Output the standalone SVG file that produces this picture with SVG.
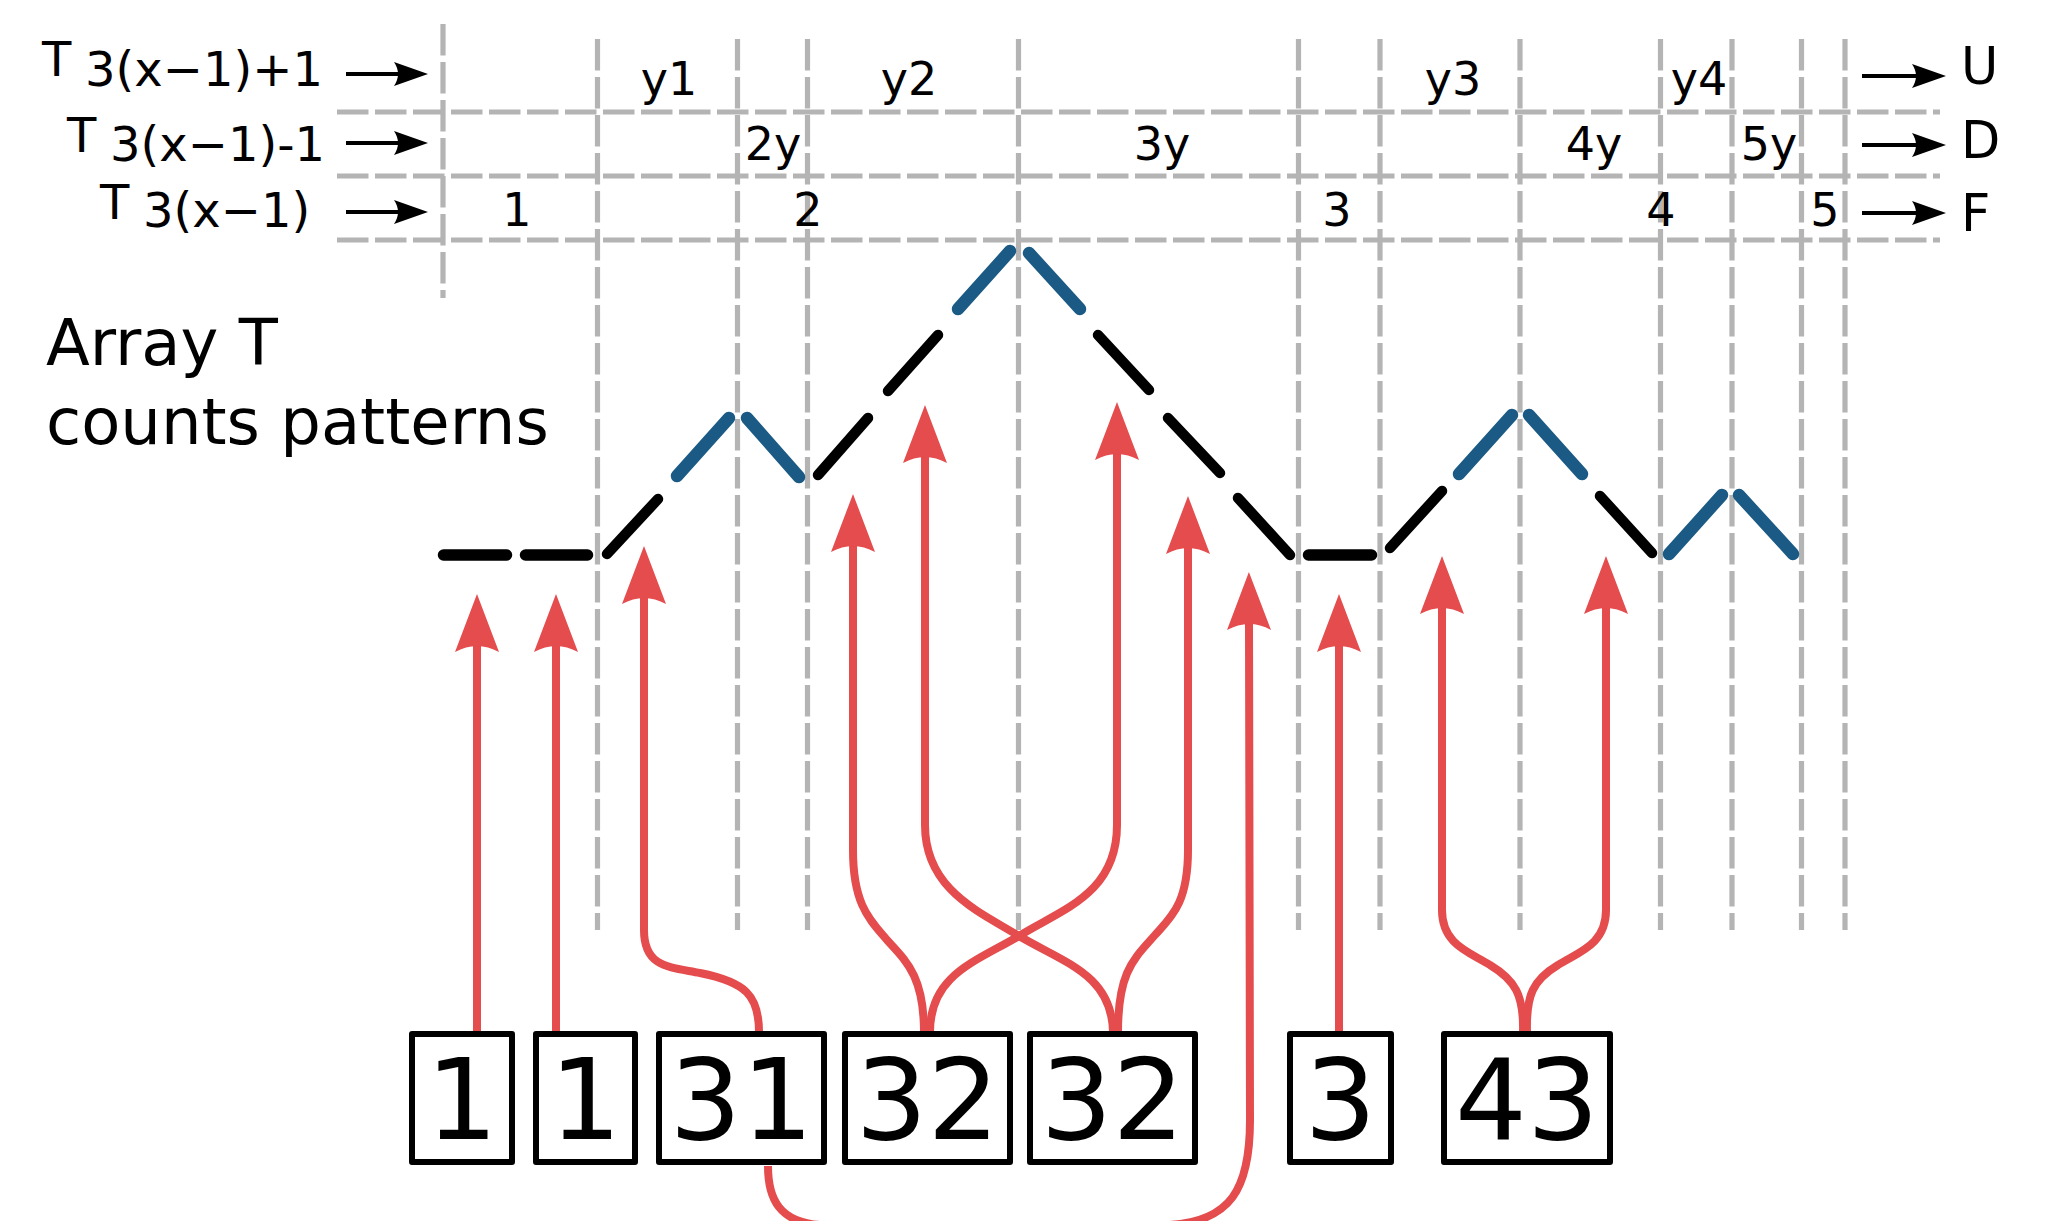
<svg xmlns="http://www.w3.org/2000/svg" width="2048" height="1221" viewBox="0 0 2048 1221">
<style>
text{font-family:"DejaVu Sans","Liberation Sans",sans-serif;fill:#000}
.grid{stroke:#b4b4b4;stroke-width:5.2;stroke-dasharray:31.5 6.5;fill:none}
.blk{stroke:#000;stroke-width:10.5;stroke-linecap:round;fill:none}
.flat{stroke:#000;stroke-width:11.5;stroke-linecap:round;fill:none}
.blu{stroke:#1b5a84;stroke-width:12.5;stroke-linecap:round;fill:none}
.red{stroke:#e54c4d;stroke-width:8;fill:none;marker-end:url(#ah)}
.kar{stroke:#000;stroke-width:4;fill:none;marker-end:url(#kh)}
.box{fill:#fff;stroke:#000;stroke-width:6;stroke-linejoin:round}
.lab{font-size:48px}
.cell{font-size:46px;text-anchor:middle}
.udf{font-size:51px}
.big{font-size:113px;text-anchor:middle}
.cap{font-size:64px}
</style>
<defs>
<marker id="ah" viewBox="-7 -23 62 46" refX="0" refY="0" markerWidth="62" markerHeight="46" markerUnits="userSpaceOnUse" orient="auto" overflow="visible">
<path d="M52,0 L-6,-22 Q6,0 -6,22 Z" fill="#e54c4d"/>
</marker>
<marker id="kh" viewBox="-5 -13 38 26" refX="0" refY="0" markerWidth="38" markerHeight="26" markerUnits="userSpaceOnUse" orient="auto" overflow="visible">
<path d="M30,0 L-4,-12 Q4,0 -4,12 Z" fill="#000"/>
</marker>
</defs>
<rect width="2048" height="1221" fill="#fff"/>
<g id="grid">
<line class="grid" x1="337" y1="112" x2="1940" y2="112"/>
<line class="grid" x1="337" y1="176" x2="1940" y2="176"/>
<line class="grid" x1="337" y1="240" x2="1940" y2="240"/>
<line class="grid" x1="443" y1="24" x2="443" y2="298"/>
<line class="grid" x1="597.5" y1="39" x2="597.5" y2="930"/>
<line class="grid" x1="737.5" y1="39" x2="737.5" y2="930"/>
<line class="grid" x1="807.5" y1="39" x2="807.5" y2="930"/>
<line class="grid" x1="1018.5" y1="39" x2="1018.5" y2="930"/>
<line class="grid" x1="1298.5" y1="39" x2="1298.5" y2="930"/>
<line class="grid" x1="1380" y1="39" x2="1380" y2="930"/>
<line class="grid" x1="1520" y1="39" x2="1520" y2="930"/>
<line class="grid" x1="1660.5" y1="39" x2="1660.5" y2="930"/>
<line class="grid" x1="1732" y1="39" x2="1732" y2="930"/>
<line class="grid" x1="1801.5" y1="39" x2="1801.5" y2="930"/>
<line class="grid" x1="1845" y1="39" x2="1845" y2="930"/>
</g>
<g id="row-labels">
<text class="lab" x="42" y="76">T</text><text class="lab" x="85" y="86">3(x−1)+1</text>
<text class="lab" x="67" y="152">T</text><text class="lab" x="110" y="161">3(x−1)-1</text>
<text class="lab" x="100" y="219">T</text><text class="lab" x="143" y="227">3(x−1)</text>
<path class="kar" d="M346,74 L398,74"/>
<path class="kar" d="M346,143 L398,143"/>
<path class="kar" d="M346,212 L398,212"/>
<path class="kar" d="M1862,76 L1916,76"/>
<path class="kar" d="M1862,145 L1916,145"/>
<path class="kar" d="M1862,213 L1916,213"/>
<text class="udf" x="1961" y="84">U</text>
<text class="udf" x="1961" y="158">D</text>
<text class="udf" x="1961" y="231">F</text>
</g>
<g id="cell-labels">
<text class="cell" x="669" y="95">y1</text>
<text class="cell" x="909" y="95">y2</text>
<text class="cell" x="1453" y="95">y3</text>
<text class="cell" x="1699" y="95">y4</text>
<text class="cell" x="773" y="160">2y</text>
<text class="cell" x="1162" y="160">3y</text>
<text class="cell" x="1594" y="160">4y</text>
<text class="cell" x="1769" y="160">5y</text>
<text class="cell" x="517" y="226">1</text>
<text class="cell" x="808" y="226">2</text>
<text class="cell" x="1337" y="226">3</text>
<text class="cell" x="1661" y="226">4</text>
<text class="cell" x="1825" y="226">5</text>
</g>
<g id="caption">
<text class="cap" x="46" y="365">Array T</text>
<text class="cap" x="46" y="444">counts patterns</text>
</g>
<g id="path-steps">
<line class="flat" x1="443.5" y1="555" x2="506.5" y2="555"/>
<line class="flat" x1="525.5" y1="555" x2="587.5" y2="555"/>
<line class="blk" x1="607" y1="554" x2="658" y2="499"/>
<line class="blu" x1="677" y1="476" x2="729" y2="418"/>
<line class="blu" x1="747" y1="418" x2="799" y2="477"/>
<line class="blk" x1="818" y1="475" x2="868" y2="418"/>
<line class="blk" x1="888" y1="391" x2="938" y2="335"/>
<line class="blu" x1="958" y1="309" x2="1010" y2="251"/>
<line class="blu" x1="1029" y1="253" x2="1080" y2="309"/>
<line class="blk" x1="1098" y1="335" x2="1149" y2="390"/>
<line class="blk" x1="1168" y1="418" x2="1220" y2="473"/>
<line class="blk" x1="1238" y1="498" x2="1290" y2="555"/>
<line class="flat" x1="1308.5" y1="555" x2="1371.5" y2="555"/>
<line class="blk" x1="1390" y1="548" x2="1442" y2="491"/>
<line class="blu" x1="1459" y1="474" x2="1512" y2="415"/>
<line class="blu" x1="1529" y1="415" x2="1582" y2="474"/>
<line class="blk" x1="1600" y1="496" x2="1652" y2="553"/>
<line class="blu" x1="1669" y1="554" x2="1722" y2="495"/>
<line class="blu" x1="1739" y1="495" x2="1793" y2="554"/>
</g>
<g id="connectors">
<path class="red" d="M477,1031 L477,646"/>
<path class="red" d="M556,1031 L556,646"/>
<path class="red" d="M759,1032 C759,995 745,982 700,973 C670,967 644,968 644,930 L644,598"/>
<path class="red" d="M924,1032 C924,975 905,960 887,940 C870,920 853,905 853,850 L853,546"/>
<path class="red" d="M930,1032 C930,975 975,962 1019,936 C1060,910 1117,895 1117,825 L1117,454"/>
<path class="red" d="M1113,1032 C1112,975 1065,963 1019,936 C980,912 925,890 925,825 L925,457"/>
<path class="red" d="M1118,1032 C1118,970 1135,958 1155,935 C1170,918 1188,905 1188,850 L1188,548"/>
<path class="red" d="M768,1166 C768,1200 780,1222 820,1225 L1170,1225 C1230,1221 1250,1190 1250,1120 L1249,624"/>
<path class="red" d="M1339,1031 L1339,646"/>
<path class="red" d="M1523,1032 C1524,995 1515,980 1490,965 C1470,952 1442,945 1442,910 L1442,608"/>
<path class="red" d="M1527,1032 C1526,995 1533,980 1558,965 C1578,952 1606,945 1606,910 L1606,608"/>
</g>
<g id="box-1a"><rect class="box" x="412" y="1034" width="100" height="128"/><text class="big" x="462" y="1139">1</text></g>
<g id="box-1b"><rect class="box" x="536" y="1034" width="99" height="128"/><text class="big" x="585.5" y="1139">1</text></g>
<g id="box-31"><rect class="box" x="659" y="1034" width="165" height="128"/><text class="big" x="741.5" y="1139">31</text></g>
<g id="box-32a"><rect class="box" x="845" y="1034" width="165" height="128"/><text class="big" x="927.5" y="1139">32</text></g>
<g id="box-32b"><rect class="box" x="1030" y="1034" width="165" height="128"/><text class="big" x="1112.5" y="1139">32</text></g>
<g id="box-3"><rect class="box" x="1290" y="1034" width="101" height="128"/><text class="big" x="1340.5" y="1139">3</text></g>
<g id="box-43"><rect class="box" x="1444" y="1034" width="166" height="128"/><text class="big" x="1527" y="1139">43</text></g>
</svg>
